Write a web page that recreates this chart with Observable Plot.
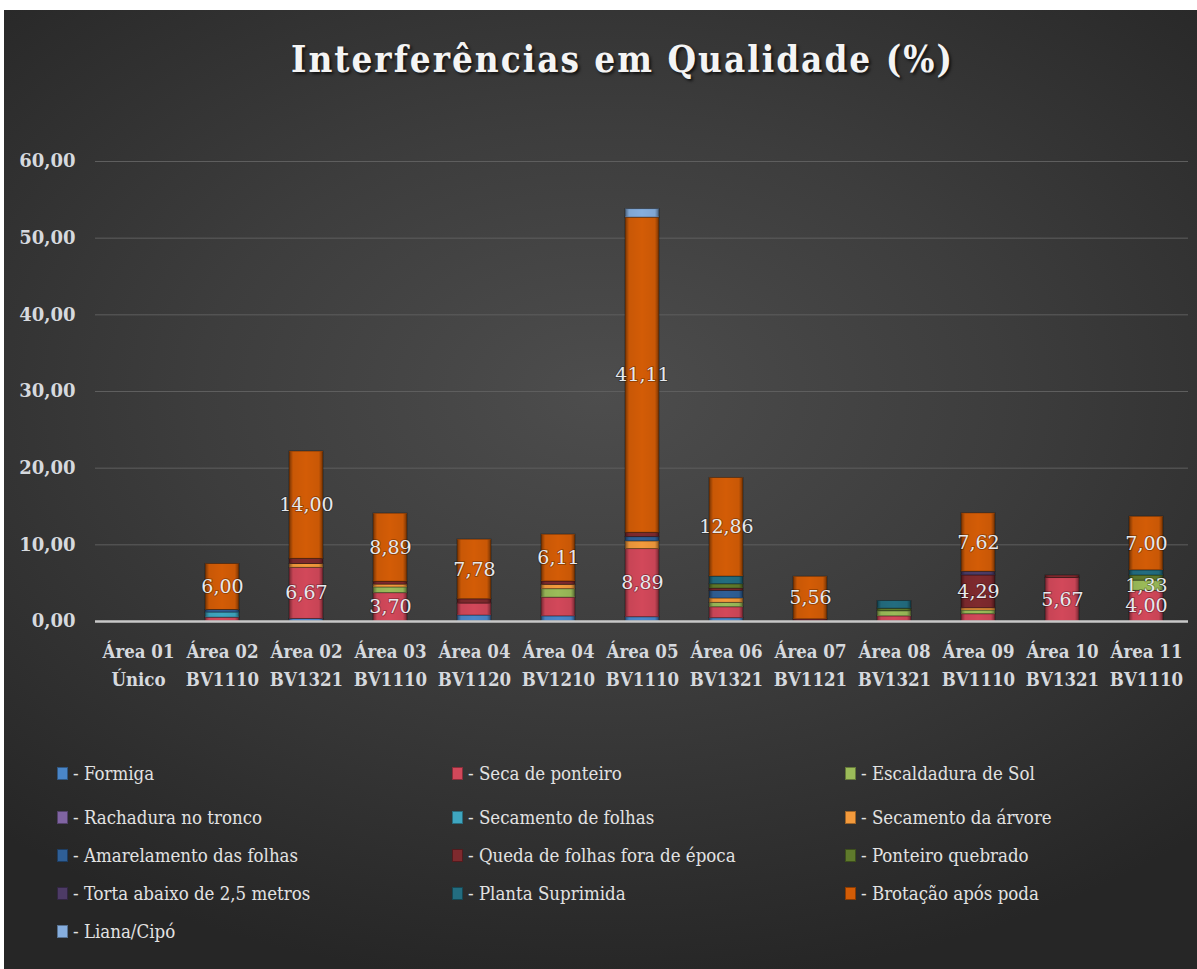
<!DOCTYPE html>
<html><head><meta charset="utf-8">
<script src="https://cdn.jsdelivr.net/npm/d3@7"></script>
<script src="https://cdn.jsdelivr.net/npm/@observablehq/plot@0.6"></script>
<style>
html,body{margin:0;padding:0;background:#fff;}
#chart{position:absolute;left:4px;top:10px;width:1193px;height:959px;
  background:radial-gradient(ellipse 75% 62% at 50% 40%, #4d4d4d 0%, #3d3d3d 45%, #262626 100%);
  font-family:"DejaVu Serif Condensed","DejaVu Serif",serif;color:#e6e6e6;overflow:hidden}
#title{position:absolute;left:22px;top:27px;width:1193px;text-align:center;font-size:36.5px;font-weight:bold;
  letter-spacing:2px;line-height:46px;color:#f4f4f4;text-shadow:2px 2px 3px rgba(0,0,0,.7)}
#plot{position:absolute;left:0;top:130px}
#legend{position:absolute;left:53px;top:738px;display:grid;grid-template-columns:395px 393px 340px;
  grid-template-rows:50px 38px 38px 38px 38px;font-size:18.5px;color:#e2e2e2}
.item{display:flex;align-items:center;white-space:nowrap}
.sw{display:inline-block;width:11px;height:13px;margin-right:5px;box-shadow:inset 0 0 0 1px rgba(0,0,0,.35)}
</style></head>
<body><div id="chart"><div id="title">Interferências em Qualidade (%)</div><div id="plot"></div><div id="legend"></div></div>
<script>
const categories = ["Área 01\nÚnico","Área 02\nBV1110","Área 02\nBV1321","Área 03\nBV1110","Área 04\nBV1120","Área 04\nBV1210","Área 05\nBV1110","Área 06\nBV1321","Área 07\nBV1121","Área 08\nBV1321","Área 09\nBV1110","Área 10\nBV1321","Área 11\nBV1110"];
const seriesNames = ["Formiga","Seca de ponteiro","Escaldadura de Sol","Rachadura no tronco","Secamento de folhas","Secamento da árvore","Amarelamento das folhas","Queda de folhas fora de época","Ponteiro quebrado","Torta abaixo de 2,5 metros","Planta Suprimida","Brotação após poda","Liana/Cipó"];
const seriesColors = ["#4a86c8","#d2485a","#9bbb59","#8064a2","#3fa6c0","#f39a3c","#2f5f96","#7f2a2e","#5f7a2c","#4d3b66","#236d80","#d35c06","#86aede"];

const formiga      = [0, 0,    0.33, 0,    0.78, 0.67, 0.56, 0.43, 0,    0,    0,    0,    0];
const seca         = [0, 0.50, 6.67, 3.70, 1.56, 2.44, 8.89, 1.43, 0,    0.67, 0.95, 5.67, 4.00];
const escaldadura  = [0, 0,    0,    0.74, 0,    1.11, 0,    0.57, 0,    0.67, 0.48, 0,    1.33];
const rachadura    = [0, 0,    0,    0,    0,    0,    0,    0,    0,    0,    0,    0,    0];
const secFolhas    = [0, 0.67, 0,    0,    0,    0,    0,    0,    0,    0,    0,    0,    0];
const secArvore    = [0, 0,    0.50, 0.37, 0,    0.56, 1.00, 0.57, 0,    0,    0.29, 0,    0];
const amarelamento = [0, 0.33, 0,    0,    0,    0,    0.56, 1.00, 0,    0,    0,    0,    0];
const queda        = [0, 0,    0.67, 0.37, 0.56, 0.44, 0.56, 0.29, 0.28, 0,    4.29, 0.33, 0];
const ponteiro     = [0, 0,    0,    0,    0,    0,    0,    0.57, 0,    0.33, 0,    0,    0.67];
const torta        = [0, 0,    0,    0,    0,    0,    0,    0,    0,    0,    0.48, 0,    0];
const planta       = [0, 0,    0,    0,    0,    0,    0,    1.00, 0,    1.00, 0,    0,    0.67];
const brotacao     = [0, 6.00, 14.00,8.89, 7.78, 6.11, 41.11,12.86, 5.56, 0,    7.62, 0,    7.00];
const liana        = [0, 0,    0,    0,    0,    0,    1.11, 0,    0,    0,    0,    0,    0];
const seriesValues = [formiga, seca, escaldadura, rachadura, secFolhas, secArvore, amarelamento, queda, ponteiro, torta, planta, brotacao, liana];

// cells whose value is printed: [category index, series index]
const labeledCells = [[1,11],[2,1],[2,11],[3,1],[3,11],[4,11],[5,11],[6,1],[6,11],[7,11],[8,11],[10,7],[10,11],[11,1],[12,1],[12,2],[12,11]];
const yTicks = [0,10,20,30,40,50,60];

const fmt = d => d3.format(".2f")(d).replace(".", ",");
const labelSet = new Set(labeledCells.map(([c,s]) => c + "|" + s));
const table = [];
seriesValues.forEach((vals, si) => vals.forEach((v, ci) => {
  if (v > 0) table.push({cat: categories[ci], series: seriesNames[si], value: v, label: labelSet.has(ci + "|" + si) ? fmt(v) : null});
}));

const serif = '"DejaVu Serif",serif';
const condensed = '"DejaVu Serif Condensed","DejaVu Serif",serif';
const chart = Plot.plot({
  width: 1193, height: 561,
  marginLeft: 91, marginRight: 9, marginTop: 21, marginBottom: 80,
  style: {background: "transparent", fontFamily: serif, overflow: "visible"},
  x: {type: "band", domain: categories, paddingInner: 0.6, paddingOuter: 0.3},
  y: {domain: [0, 60]},
  color: {domain: seriesNames, range: seriesColors},
  marks: [
    Plot.gridY(yTicks.filter(d => d > 0), {stroke: "#5e5e5e", strokeOpacity: 1}),
    Plot.barY(table, Plot.stackY({x: "cat", y: "value", z: "series", fill: "series", order: seriesNames, stroke: "#000", strokeOpacity: 0.35, strokeWidth: 1})),
    Plot.barY(table, Plot.stackY({x: "cat", y: "value", z: "series", order: seriesNames, fill: "url(#bevel)", insetTop: 0.5, insetBottom: 0.5})),
    Plot.ruleY([0], {stroke: "#c8c8c8", strokeWidth: 2.5}),
    Plot.axisY({ticks: yTicks, tickFormat: fmt, tickSize: 0, tickPadding: 20, fontSize: 18, fontWeight: "bold", fill: "#d6d9de", label: null}),
    Plot.axisX({tickSize: 0, tickPadding: 17, fontSize: 18.5, fontWeight: "bold", fontFamily: condensed, lineHeight: 1.5, fill: "#d6d9de", label: null}),
    Plot.text(table, Plot.stackY({x: "cat", y: "value", z: "series", order: seriesNames, text: "label", fill: "#e6e9ee", fontSize: 19, stroke: "rgba(0,0,0,0.25)", strokeWidth: 2}))
  ]
});
const svg = d3.select(chart);
const defs = svg.insert("defs", ":first-child");
const g = defs.append("linearGradient").attr("id", "bevel").attr("x1", 0).attr("x2", 1).attr("y1", 0).attr("y2", 0);
[[0, 0.45],[0.12, 0.05],[0.5, 0],[0.88, 0.05],[1, 0.45]].forEach(([o, a]) => g.append("stop").attr("offset", o).attr("stop-color", "#000").attr("stop-opacity", a));
document.getElementById("plot").appendChild(chart);

const legend = document.getElementById("legend");
seriesNames.forEach((s, i) => {
  const it = document.createElement("div");
  it.className = "item";
  it.innerHTML = `<span class="sw" style="background:${seriesColors[i]}"></span>- ${s}`;
  legend.appendChild(it);
});
</script></body></html>
